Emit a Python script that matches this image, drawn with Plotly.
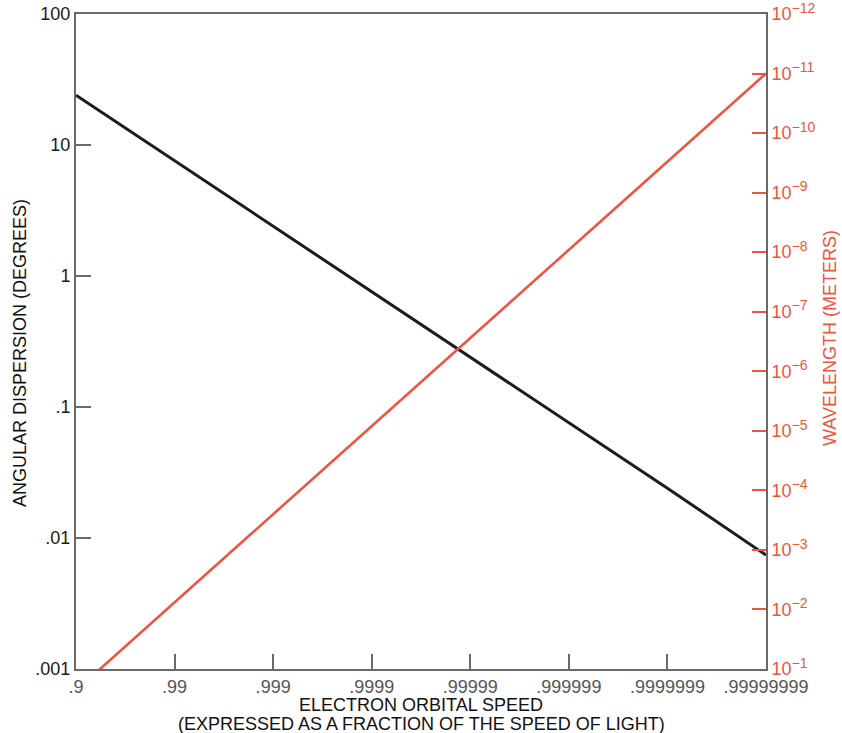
import plotly.graph_objects as go

# Electron orbital speed, as a fraction of c: position = number of nines
speed_labels = [".9", ".99", ".999", ".9999", ".99999", ".999999", ".9999999", ".99999999"]
speed_nines = [1, 2, 3, 4, 5, 6, 7, 8]

# Angular dispersion of the emitted radiation (degrees)
dispersion_deg = [24, 7.6, 2.4, 0.76, 0.24, 0.076, 0.024, 0.0074]

# Characteristic wavelength (meters)
wavelength_m = [2.3e-1, 7.6e-3, 2.5e-4, 8.3e-6, 2.75e-7, 9.1e-9, 3.0e-10, 1.0e-11]

# Axis ticks
disp_tickvals = [0.001, 0.01, 0.1, 1, 10, 100]
disp_ticktext = [".001", ".01", ".1", "1", "10", "100"]
wl_exponents = [-1, -2, -3, -4, -5, -6, -7, -8, -9, -10, -11, -12]

RED = "#ee5440"
FRAME = "#6a6a6a"
FONT = "Liberation Sans, Arial, Helvetica, sans-serif"

fig = go.Figure()

fig.add_trace(go.Scatter(
    x=speed_nines, y=dispersion_deg, mode="lines",
    line=dict(color="#1c1c1c", width=3), yaxis="y", showlegend=False,
))
fig.add_trace(go.Scatter(
    x=speed_nines, y=wavelength_m, mode="lines",
    line=dict(color=RED, width=2.6), yaxis="y2", showlegend=False,
))

fig.update_layout(
    width=842, height=733,
    margin=dict(l=76, r=76, t=14, b=64),
    paper_bgcolor="white", plot_bgcolor="white",
    font=dict(family=FONT, size=18, color="#222"),
    xaxis=dict(
        range=[1, 8], tickvals=speed_nines, ticktext=speed_labels,
        automargin=False,
        showgrid=False, zeroline=False,
        showline=True, linecolor=FRAME, linewidth=2, mirror=True,
        ticks="inside", ticklen=15, tickwidth=2, tickcolor=FRAME,
        tickfont=dict(color="#555", size=18),
    ),
    yaxis=dict(
        type="log", range=[-3, 2],
        tickvals=disp_tickvals, ticktext=disp_ticktext,
        automargin=False, ticklabeloverflow="allow",
        showgrid=False, zeroline=False,
        showline=True, linecolor=FRAME, linewidth=2,
        ticks="inside", ticklen=15, tickwidth=2, tickcolor=FRAME,
        tickfont=dict(color="#1a1a1a", size=18),
    ),
    yaxis2=dict(
        type="log", range=[-1, -12], overlaying="y", side="right",
        tickvals=[10.0 ** e for e in wl_exponents],
        ticktext=["10<sup><span style='font-size:14px'>\u2212%d</span></sup>" % (-e)
                  for e in wl_exponents],
        automargin=False, ticklabeloverflow="allow",
        showgrid=False, zeroline=False,
        showline=True, linecolor=FRAME, linewidth=2,
        ticks="inside", ticklen=14, tickwidth=2, tickcolor=RED,
        tickfont=dict(color=RED, size=18),
    ),
    annotations=[
        dict(text="ANGULAR DISPERSION (DEGREES)", xref="paper", yref="paper",
             x=-0.0812, y=0.4824, textangle=-90, showarrow=False,
             xanchor="center", yanchor="middle",
             font=dict(size=18, color="#111")),
        dict(text="WAVELENGTH (METERS)", xref="paper", yref="paper",
             x=1.0928, y=0.5053, textangle=-90, showarrow=False,
             xanchor="center", yanchor="middle",
             font=dict(size=18, color=RED)),
        dict(text="ELECTRON ORBITAL SPEED", xref="paper", yref="paper",
             x=0.5, y=-0.0545, showarrow=False,
             xanchor="center", yanchor="middle",
             font=dict(size=18, color="#111")),
        dict(text="(EXPRESSED AS A FRACTION OF THE SPEED OF LIGHT)", xref="paper", yref="paper",
             x=0.5, y=-0.0842, showarrow=False,
             xanchor="center", yanchor="middle",
             font=dict(size=18, color="#111")),
    ],
)

fig.write_html("out.html")
